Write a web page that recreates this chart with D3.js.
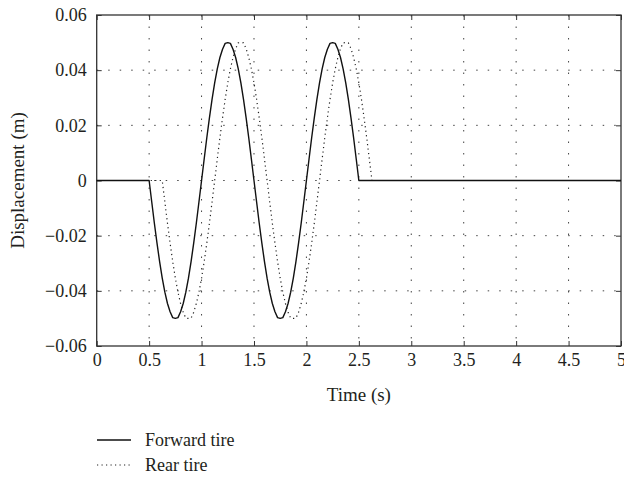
<!DOCTYPE html>
<html>
<head>
<meta charset="utf-8">
<script src="https://cdn.jsdelivr.net/npm/d3@7"></script>
<style>
  html, body { margin: 0; padding: 0; background: #fff; }
  svg { display: block; }
  text { font-family: "Liberation Serif", "DejaVu Serif", serif; fill: #231f20; }
</style>
</head>
<body>
<svg id="chart" width="624" height="481"></svg>
<script>
// ---- data ----
const seriesNames = ["Forward tire", "Rear tire"];

const forwardTime = [0,
  0.5, 0.525, 0.55, 0.575, 0.6, 0.625, 0.65, 0.675, 0.7, 0.725, 0.75, 0.775, 0.8, 0.825, 0.85, 0.875, 0.9, 0.925, 0.95, 0.975,
  1.0, 1.025, 1.05, 1.075, 1.1, 1.125, 1.15, 1.175, 1.2, 1.225, 1.25, 1.275, 1.3, 1.325, 1.35, 1.375, 1.4, 1.425, 1.45, 1.475,
  1.5, 1.525, 1.55, 1.575, 1.6, 1.625, 1.65, 1.675, 1.7, 1.725, 1.75, 1.775, 1.8, 1.825, 1.85, 1.875, 1.9, 1.925, 1.95, 1.975,
  2.0, 2.025, 2.05, 2.075, 2.1, 2.125, 2.15, 2.175, 2.2, 2.225, 2.25, 2.275, 2.3, 2.325, 2.35, 2.375, 2.4, 2.425, 2.45, 2.475,
  2.5, 5.0];
const forwardDisp = [0,
  0, -0.0078, -0.0155, -0.0227, -0.0294, -0.0354, -0.0405, -0.0446, -0.0476, -0.0497, -0.0500, -0.0497, -0.0476, -0.0446, -0.0405, -0.0354, -0.0294, -0.0227, -0.0155, -0.0078,
  0, 0.0078, 0.0155, 0.0227, 0.0294, 0.0354, 0.0405, 0.0446, 0.0476, 0.0497, 0.0500, 0.0497, 0.0476, 0.0446, 0.0405, 0.0354, 0.0294, 0.0227, 0.0155, 0.0078,
  0, -0.0078, -0.0155, -0.0227, -0.0294, -0.0354, -0.0405, -0.0446, -0.0476, -0.0497, -0.0500, -0.0497, -0.0476, -0.0446, -0.0405, -0.0354, -0.0294, -0.0227, -0.0155, -0.0078,
  0, 0.0078, 0.0155, 0.0227, 0.0294, 0.0354, 0.0405, 0.0446, 0.0476, 0.0497, 0.0500, 0.0497, 0.0476, 0.0446, 0.0405, 0.0354, 0.0294, 0.0227, 0.0155, 0.0078,
  0, 0];

const rearTime = [0,
  0.625, 0.65, 0.675, 0.7, 0.725, 0.75, 0.775, 0.8, 0.825, 0.85, 0.875, 0.9, 0.925, 0.95, 0.975, 1.0, 1.025, 1.05, 1.075, 1.1,
  1.125, 1.15, 1.175, 1.2, 1.225, 1.25, 1.275, 1.3, 1.325, 1.35, 1.375, 1.4, 1.425, 1.45, 1.475, 1.5, 1.525, 1.55, 1.575, 1.6,
  1.625, 1.65, 1.675, 1.7, 1.725, 1.75, 1.775, 1.8, 1.825, 1.85, 1.875, 1.9, 1.925, 1.95, 1.975, 2.0, 2.025, 2.05, 2.075, 2.1,
  2.125, 2.15, 2.175, 2.2, 2.225, 2.25, 2.275, 2.3, 2.325, 2.35, 2.375, 2.4, 2.425, 2.45, 2.475, 2.5, 2.525, 2.55, 2.575, 2.6,
  2.625, 5.0];
const rearDisp = [0,
  0, -0.0078, -0.0155, -0.0227, -0.0294, -0.0354, -0.0405, -0.0446, -0.0478, -0.0499, -0.0500, -0.0499, -0.0478, -0.0446, -0.0405, -0.0354, -0.0294, -0.0227, -0.0155, -0.0078,
  0, 0.0078, 0.0155, 0.0227, 0.0294, 0.0354, 0.0405, 0.0446, 0.0478, 0.0499, 0.0500, 0.0499, 0.0478, 0.0446, 0.0405, 0.0354, 0.0294, 0.0227, 0.0155, 0.0078,
  0, -0.0078, -0.0155, -0.0227, -0.0294, -0.0354, -0.0405, -0.0446, -0.0478, -0.0499, -0.0500, -0.0499, -0.0478, -0.0446, -0.0405, -0.0354, -0.0294, -0.0227, -0.0155, -0.0078,
  0, 0.0078, 0.0155, 0.0227, 0.0294, 0.0354, 0.0405, 0.0446, 0.0478, 0.0499, 0.0500, 0.0499, 0.0478, 0.0446, 0.0405, 0.0354, 0.0294, 0.0227, 0.0155, 0.0078,
  0, 0];

const xTicks = [0, 0.5, 1, 1.5, 2, 2.5, 3, 3.5, 4, 4.5, 5];
const xTickLabels = ["0", "0.5", "1", "1.5", "2", "2.5", "3", "3.5", "4", "4.5", "5"];
const yTicks = [0.06, 0.04, 0.02, 0, -0.02, -0.04, -0.06];
const yTickLabels = ["0.06", "0.04", "0.02", "0", "\u22120.02", "\u22120.04", "\u22120.06"];
const xTitle = "Time (s)";
const yTitle = "Displacement (m)";

// ---- layout ----
const pL = 96.7, pR = 621, pT = 15, pB = 346;
const svg = d3.select("#chart");
const x = d3.scaleLinear().domain([0, 5]).range([pL, pR]);
const y = d3.scaleLinear().domain([-0.06, 0.06]).range([pB, pT]);

// grid
const grid = svg.append("g");
grid.selectAll("line.vx").data(xTicks.slice(1, -1)).join("line")
  .attr("x1", d => x(d)).attr("x2", d => x(d)).attr("y1", pT).attr("y2", pB)
  .attr("stroke", "#444").attr("stroke-width", 1).attr("stroke-dasharray", "1.5,10");
grid.selectAll("line.hy").data(yTicks.slice(1, -1)).join("line")
  .attr("y1", d => y(d)).attr("y2", d => y(d)).attr("x1", pL).attr("x2", pR)
  .attr("stroke", "#444").attr("stroke-width", 1).attr("stroke-dasharray", "1.5,10");

// axes (ticks inward)
const fmtX = (d, i) => xTickLabels[i];
const fmtY = (d, i) => yTickLabels[i];
const axB = svg.append("g").attr("transform", `translate(0,${pB})`)
  .call(d3.axisBottom(x).tickValues(xTicks).tickFormat(fmtX).tickSizeInner(-5).tickSizeOuter(0).tickPadding(7));
const axT = svg.append("g").attr("transform", `translate(0,${pT})`)
  .call(d3.axisTop(x).tickValues(xTicks).tickFormat("").tickSizeInner(-5).tickSizeOuter(0));
const axL = svg.append("g").attr("transform", `translate(${pL},0)`)
  .call(d3.axisLeft(y).tickValues(yTicks).tickFormat(fmtY).tickSizeInner(-5).tickSizeOuter(0).tickPadding(10));
const axR = svg.append("g").attr("transform", `translate(${pR},0)`)
  .call(d3.axisRight(y).tickValues(yTicks).tickFormat("").tickSizeInner(-5).tickSizeOuter(0));
[axB, axT, axL, axR].forEach(a => {
  a.select(".domain").remove();
  a.selectAll(".tick line").attr("stroke", "#333").attr("stroke-width", 1);
  a.selectAll("text").attr("font-size", 18).attr("fill", "#231f20")
    .style("font-family", '"Liberation Serif", serif');
});
svg.append("rect").attr("x", pL).attr("y", pT).attr("width", pR - pL).attr("height", pB - pT)
  .attr("fill", "none").attr("stroke", "#333").attr("stroke-width", 1.3);

// lines
const line = d3.line().x(d => x(d[0])).y(d => y(d[1]));
const fwd = forwardTime.map((t, i) => [t, forwardDisp[i]]);
const rear = rearTime.map((t, i) => [t, rearDisp[i]]);
svg.append("path").datum(rear).attr("d", line).attr("fill", "none")
  .attr("stroke", "#222").attr("stroke-width", 1.2).attr("stroke-dasharray", "1.2,3.3");
svg.append("path").datum(fwd).attr("d", line).attr("fill", "none")
  .attr("stroke", "#111").attr("stroke-width", 1.4).attr("stroke-linejoin", "round");

// titles
svg.append("text").attr("x", (pL + pR) / 2).attr("y", 401).attr("text-anchor", "middle")
  .attr("font-size", 19).text(xTitle);
svg.append("text").attr("transform", `translate(24,${(pT + pB) / 2}) rotate(-90)`)
  .attr("text-anchor", "middle").attr("font-size", 19).text(yTitle);

// legend
const leg = svg.append("g");
const legY = [440, 465];
leg.append("line").attr("x1", 97).attr("x2", 131).attr("y1", legY[0]).attr("y2", legY[0])
  .attr("stroke", "#111").attr("stroke-width", 1.4);
leg.append("line").attr("x1", 97).attr("x2", 131).attr("y1", legY[1]).attr("y2", legY[1])
  .attr("stroke", "#222").attr("stroke-width", 1.2).attr("stroke-dasharray", "1.2,3.3");
seriesNames.forEach((n, i) => {
  leg.append("text").attr("x", 145).attr("y", legY[i] + 6).attr("font-size", 18).text(n);
});
</script>
</body>
</html>
